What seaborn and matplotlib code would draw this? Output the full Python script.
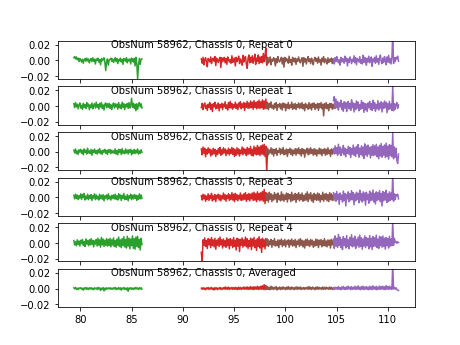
import numpy as np
import matplotlib
matplotlib.use("Agg")
import matplotlib.pyplot as plt
import seaborn as sns

# x ranges (frequency) of the four band segments
green_range = (79.35, 86.0)
red_range = (91.8, 98.35)
brown_range = (98.1, 104.75)
purple_range = (104.7, 111.05)

titles = [
    "ObsNum 58962, Chassis 0, Repeat 0",
    "ObsNum 58962, Chassis 0, Repeat 1",
    "ObsNum 58962, Chassis 0, Repeat 2",
    "ObsNum 58962, Chassis 0, Repeat 3",
    "ObsNum 58962, Chassis 0, Repeat 4",
    "ObsNum 58962, Chassis 0, Averaged",
]
yticks = [-0.02, 0.0, 0.02]

# values in units of 1e-4
g0 = [35, 50, 20, 45, 10, 30, -15, 25, 5, -20,
      15, -35, 10, 25, -10, 30, -5, 20, -30, 5,
      25, -15, 35, -10, 15, -45, 20, 0, 30, -20,
      10, -55, 25, -5, 15, 35, -25, -130, -15, 20,
      -60, 5, 15, 30, -10, 20, -25, 5, 35, -15,
      25, -40, 10, -5, 30, -20, 15, -50, 25, 5,
      -10, 35, -30, 15, -5, 20, -45, 30, 10, -20,
      25, -70, 40, -35, -235, -60, 25, -50, 15, 20]
r0 = [20, -35, 40, -55, 10, 35, -20, -80, 25, 5,
      -20, 45, -40, 15, 30, -10, 50, -65, 30, -5,
      -25, 20, 40, -90, 35, -15, 10, 40, -30, 25,
      -50, 45, 15, -20, 10, -35, 60, -25, 5, 30,
      -70, 40, -15, 20, 55, -40, 20, -5, -60, 65,
      -20, 35, 50, -45, -100, 25, 70, -30, 40, -20,
      60, -35, 15, 80, -50, 30, -10, 70, -40, 45,
      -25, 50, -30, 90, -15, 65, 160, -60, 40, -30]
b0 = [30, -40, 20, 5, -20, 45, -55, 15, -10, 35,
      20, -70, 25, -30, 50, -5, -20, 10, 40, -45,
      30, -85, 40, -15, 25, 5, -35, 55, -25, 10,
      -60, 40, 15, -20, 30, -50, 20, -10, 45, -5,
      -30, 15, 35, -75, 35, -20, 25, -45, 10, 50,
      -15, 20, -40, 30, -5, -55, 15, 40, -10, 25,
      -35, 45, -20, 10, -60, 30, -15, 50, -30, 20,
      5, -45, 35, -25, 15, -10, 30, -40, 20, -15]
p0 = [20, -45, 35, -15, 50, 5, -30, 10, -60, 40,
      -20, 25, 15, -35, 55, -10, 30, -70, 20, -25,
      45, 10, -40, 15, -15, 60, -30, 35, -55, 25,
      5, -20, 50, -35, 10, -45, 65, -25, 40, -5,
      -60, 30, -20, 55, -30, 15, 45, -75, 20, -10,
      40, -35, 60, -20, 25, -50, 35, 70, -15, -40,
      30, -25, 50, 10, -55, 45, -20, 65, -30, 25,
      -45, 40, 350, -40, 35, -15, 40, 20, 55, -10]

g1 = [30, -20, 45, -10, 25, -35, 15, 40, -25, 10,
      -40, 35, -15, 20, -30, 45, -5, 25, -45, 15,
      -20, 40, -35, 10, 30, -25, 50, -15, 20, -40,
      35, -10, 45, -30, 15, -50, 25, 40, -20, 30,
      -15, 35, -30, 20, -45, 10, 40, -25, 30, -10,
      25, -40, 45, -20, 15, -35, 50, -15, 30, -45,
      20, -10, 35, -30, 45, -25, 15, 100, -15, 35,
      -30, 25, -60, 30, -40, 20, 45, -10, 30, -25]
r1 = [-20, 35, -45, 15, 40, -30, 10, -55, 25, -15,
      45, -40, 20, -70, 30, -10, 50, -35, 15, -25,
      40, -60, 20, -15, 35, -45, 25, -10, 55, -30,
      15, -50, 45, -20, 60, -25, 35, -40, 20, -15,
      50, -30, 25, -45, 40, -10, 55, -35, 30, -20,
      45, -55, 35, -15, 60, -30, 40, -25, 65, -20,
      50, -40, 70, -15, 45, -35, 60, -25, 75, -30,
      55, -20, 80, -40, 65, -35, 90, -20, 45, -10]
b1 = [40, -30, 20, -45, 35, -15, 55, -25, 10, -40,
      30, -20, 45, -55, 20, -10, 35, -35, 25, -50,
      40, -15, 30, -60, 20, -25, 45, -35, 15, -20,
      50, -40, 25, -30, 35, -45, 20, -15, 40, -30,
      30, -25, 45, -35, 20, -60, 35, -20, 15, -40,
      45, -30, 25, -50, 35, -15, 40, -45, 20, -25,
      35, -55, 30, -20, 45, -35, 25, -125, 30, -25,
      45, -35, 20, -60, 35, -20, 30, -40, 25, -30]
p1 = [70, 120, -30, 90, -20, 60, -50, 40, -10, 75,
      -40, 30, -65, 55, -25, 45, -70, 20, 60, -35,
      35, -55, 80, -20, 40, -75, 30, -45, 65, -25,
      50, -60, 20, -40, 70, -30, 45, -80, 35, -50,
      25, -70, 40, -20, 60, -45, 30, -55, 75, -30,
      45, -65, 20, -35, 70, -50, 35, -25, 55, -75,
      40, -30, 65, -20, 50, -85, 30, -45, 60, -35,
      25, -55, 260, -60, 30, -40, 20, 45, -30, 15]

g2 = [20, -15, 35, -25, 10, -35, 25, -5, 30, -20,
      15, -40, 35, -10, 20, -30, 45, -15, 10, -25,
      30, -45, 20, -10, 35, -20, 15, -30, 25, -15,
      40, -25, 10, -35, 20, -5, 30, -20, 15, -35,
      25, -10, 30, -25, 20, -15, 10, -20, 35, -30,
      15, -40, 30, -10, 25, -35, 40, -20, 10, -25,
      35, -15, 20, -30, 25, -10, 30, -40, 15, -20,
      30, -25, 20, -15, 35, -30, 10, -20, 25, -10]
r2 = [35, -40, 60, -20, 45, -65, 25, -30, 50, -15,
      35, -55, 20, -40, 45, -25, 30, -60, 15, -35,
      40, -20, 55, -45, 25, -30, 50, -15, 35, -50,
      20, -25, 45, -40, 30, -20, 55, -35, 40, -60,
      25, -45, 50, -30, 35, -55, 20, -25, 60, -40,
      45, -20, 30, -50, 55, -35, 40, -25, 65, -45,
      30, -55, 70, -30, 50, -40, 80, -35, 60, -50,
      75, -30, 85, -40, 95, -60, 70, -270, 30, -20]
b2 = [30, -25, 45, -40, 20, -15, 50, -30, 35, -55,
      25, -20, 40, -45, 15, -10, 45, -35, 30, -20,
      55, -40, 20, -30, 35, -60, 25, -15, 45, -35,
      30, -50, 20, -25, 40, -45, 35, -20, 50, -30,
      25, -55, 40, -25, 30, -70, 20, -15, 45, -40,
      35, -30, 50, -20, 25, -45, 40, -35, 30, -55,
      20, -25, 45, -30, 35, -50, 25, -20, 40, -45,
      30, -35, 50, -25, 20, -60, 35, -30, 25, -15]
p2 = [40, -30, 75, -20, 50, -45, 95, -25, 60, -50,
      35, -15, 80, -40, 45, -65, 30, -20, 70, -35,
      55, -75, 40, -30, 85, -45, 50, -60, 65, -25,
      90, -70, 45, -35, 75, -55, 60, -85, 100, -40,
      70, -60, 85, -30, 55, -80, 65, -45, 90, -50,
      75, -40, 95, -65, 60, -90, 80, -55, 105, -70,
      65, -45, 85, -75, 110, -60, 70, -95, 90, -50,
      80, -65, 240, -90, 60, -70, 45, -110, -150, -30]

g3 = [25, -20, 40, -15, 30, -30, 20, -10, 45, -25,
      35, -5, 50, -35, 15, -20, 40, -30, 25, -15,
      35, -40, 20, -10, 45, -30, 30, -20, 15, -35,
      40, -15, 25, -25, 35, -45, 20, -10, 30, -30,
      45, -20, 15, -35, 25, -15, 30, -20, 40, -25,
      20, -35, 45, -10, 30, -40, 25, -15, 50, -30,
      15, -25, 35, -45, 20, -10, 40, -30, 25, -20,
      35, -15, 30, -40, 20, -25, 45, -20, 30, -15]
r3 = [20, -35, 40, -20, 30, -50, 15, -25, 45, -40,
      25, -15, 50, -45, 20, -30, 35, -55, 25, -10,
      40, -35, 30, -45, 20, -20, 55, -30, 35, -50,
      25, -15, 45, -40, 30, -25, 60, -35, 40, -55,
      50, -30, 35, -45, 25, -20, 55, -40, 30, -35,
      45, -25, 60, -50, 35, -30, 50, -45, 40, -20,
      55, -40, 65, -35, 45, -55, 70, -30, 50, -45,
      60, -35, 75, -50, 100, -80, 60, -40, 45, -25]
b3 = [50, -40, 35, -60, 65, -25, 45, -55, 30, -35,
      60, -20, 40, -65, 55, -30, 25, -45, 70, -35,
      40, -50, 30, -25, 55, -60, 45, -20, 35, -55,
      65, -40, 30, -30, 50, -65, 40, -25, 60, -45,
      35, -30, 55, -50, 25, -40, 45, -35, 70, -55,
      40, -20, 60, -45, 30, -65, 50, -30, 35, -40,
      55, -35, 45, -60, 25, -30, 65, -50, 40, -25,
      50, -45, 35, -55, 60, -30, 45, -40, 30, -35]
p3 = [60, -20, 45, -50, 75, -30, 40, -90, 55, -25,
      30, -60, 80, -40, 50, -110, 35, -20, 70, -55,
      45, -35, 85, -30, 60, -95, 40, -45, 65, -25,
      50, -70, 90, -35, 45, -60, 70, -40, 55, -100,
      65, -30, 40, -75, 80, -45, 55, -35, 95, -60,
      45, -85, 70, -40, 60, -30, 85, -55, 50, -110,
      75, -45, 60, -35, 90, -65, 45, -50, 70, -40,
      55, -30, 300, -50, 45, -30, 35, 20, 40, -20]

g4 = [30, -25, 15, -35, 40, -20, 25, -40, 35, -10,
      45, -30, 20, -45, 50, -15, 30, -35, 40, -25,
      55, -20, 35, -50, 25, -15, 45, -40, 60, -30,
      40, -55, 70, -25, 50, -45, 35, -30, 55, -40,
      45, -35, 60, -50, 40, -25, 65, -45, 30, -55,
      50, -30, 75, -45, 40, -60, 55, -35, 80, -50,
      45, -65, 85, -40, 60, -75, 50, -35, 90, -70,
      55, -80, 75, -45, 85, -60, 45, -90, 60, -20]
r4 = [-120, -250, 40, -30, 65, -45, 30, -70, 55, -25,
      45, -60, 70, -35, 40, -50, 60, -80, 35, -30,
      55, -45, 75, -25, 40, -65, 50, -40, 30, -55,
      65, -35, 45, -75, 55, -30, 40, -60, 70, -45,
      35, -90, 60, -40, 50, -110, 45, -30, 65, -55,
      40, -35, 75, -50, 55, -70, 30, -45, 60, -85,
      50, -40, 70, -60, 35, -95, 55, -45, 80, -65,
      45, -120, 60, -50, 40, -75, 55, -35, 45, -30]
b4 = [35, -30, 50, -45, 25, -20, 45, -55, 30, -25,
      55, -40, 20, -35, 40, -60, 35, -20, 50, -45,
      30, -30, 45, -50, 25, -15, 40, -55, 35, -25,
      50, -40, 30, -35, 45, -60, 25, -20, 40, -45,
      55, -30, 35, -50, 25, -65, 40, -30, 50, -35,
      30, -45, 45, -25, 35, -55, 20, -40, 50, -30,
      40, -60, 35, -25, 45, -50, 30, -35, 55, -40,
      25, -50, 40, -30, 35, -65, 45, -25, 30, -35]
p4 = [50, -70, 90, -40, 60, -55, 110, -30, 75, -60,
      45, -85, 80, -35, 55, -65, 95, -45, 40, -75,
      70, -30, 105, -50, 60, -40, 85, -70, 45, -35,
      75, -55, 100, -45, 65, -80, 50, -40, 90, -60,
      70, -35, 55, -75, 95, -50, 60, -85, 80, -45,
      65, -40, 100, -60, 50, -70, 85, -35, 75, -55,
      90, -45, 60, -80, 70, -35, 55, -65, 85, -40,
      50, -35, 280, -30, 60, 10, 20, -5, 15, 5]

g5 = [10, -5, 15, -10, 5, -15, 10, 0, 12, -8,
      5, -20, 10, -5, 15, -10, 8, -12, 10, -5,
      12, -10, 5, -15, 10, -2, 8, -12, 15, -6,
      10, -25, 5, -8, 12, -30, 6, -15, 10, -5,
      8, -5, 12, -10, 5, -8, 10, -5, 15, -12,
      6, -10, 12, -8, 10, -20, 8, -5, 14, -10,
      5, -15, 10, -35, 8, -5, 12, -10, 6, -12,
      10, -8, 15, -5, 8, -12, 10, -6, 12, -8]
r5 = [5, -10, 12, -8, 6, -15, 10, -5, 14, -12,
      8, -6, 15, -10, 5, -18, 12, -8, 10, -14,
      6, -5, 15, -12, 8, -10, 12, -6, 20, -10,
      14, -8, 18, -12, 10, -6, 15, -10, 12, -8,
      16, -10, 12, -14, 18, -8, 14, -12, 10, -6,
      20, -10, 15, -8, 22, -12, 16, -10, 25, -8,
      18, -14, 24, -10, 20, -8, 28, -12, 22, -10,
      30, -8, 35, -12, 50, -15, 40, -10, 20, -8]
b5 = [20, -10, 25, -5, 15, -15, 30, -8, 20, -12,
      15, -5, 25, -18, 10, -8, 20, -12, 15, -10,
      22, -6, 12, -15, 18, -8, 25, -10, 15, -12,
      20, -5, 10, -14, 18, -8, 22, -10, 15, -6,
      20, -12, 10, -8, 15, -10, 12, -5, 18, -10,
      25, -8, 15, -12, 20, -6, 10, -14, 18, -8,
      22, -10, 15, -6, 12, -12, 20, -8, 15, -10,
      18, -5, 12, -10, 20, -8, 15, -12, 10, -5]
p5 = [10, -12, 18, -6, 15, -10, 25, -8, 12, -15,
      20, -5, 28, -10, 15, -12, 22, -8, 30, -6,
      18, -14, 25, -10, 15, -8, 30, -12, 20, -6,
      35, -10, 18, -15, 25, -8, 30, -12, 20, -6,
      25, -10, 18, -14, 30, -8, 22, -12, 35, -6,
      20, -10, 28, -15, 18, -8, 32, -12, 25, -6,
      30, -10, 22, -14, 38, -8, 25, -12, 30, -6,
      20, -10, 320, -5, 15, -8, 10, -12, -20, -25]

panels = [
    (g0, r0, b0, p0),
    (g1, r1, b1, p1),
    (g2, r2, b2, p2),
    (g3, r3, b3, p3),
    (g4, r4, b4, p4),
    (g5, r5, b5, p5),
]
ranges = [green_range, red_range, brown_range, purple_range]
colors = ["tab:green", "tab:red", "tab:brown", "tab:purple"]

fig, axes = plt.subplots(6, 1, sharex=True, figsize=(6.4, 4.8), dpi=72)
for ax, title, segs in zip(axes, titles, panels):
    for vals, (lo, hi), c in zip(segs, ranges, colors):
        x = np.linspace(lo, hi, len(vals))
        y = np.array(vals) * 1e-4
        sns.lineplot(x=x, y=y, color=c, ax=ax, estimator=None, linewidth=1.5)
    ax.set_ylim(-0.0235, 0.025)
    ax.set_yticks(yticks)
    ax.set_ylabel("")
    ax.text(83, 0.02, title, va="center", ha="left", fontsize=10)

fig.savefig("out.png", dpi=72)
